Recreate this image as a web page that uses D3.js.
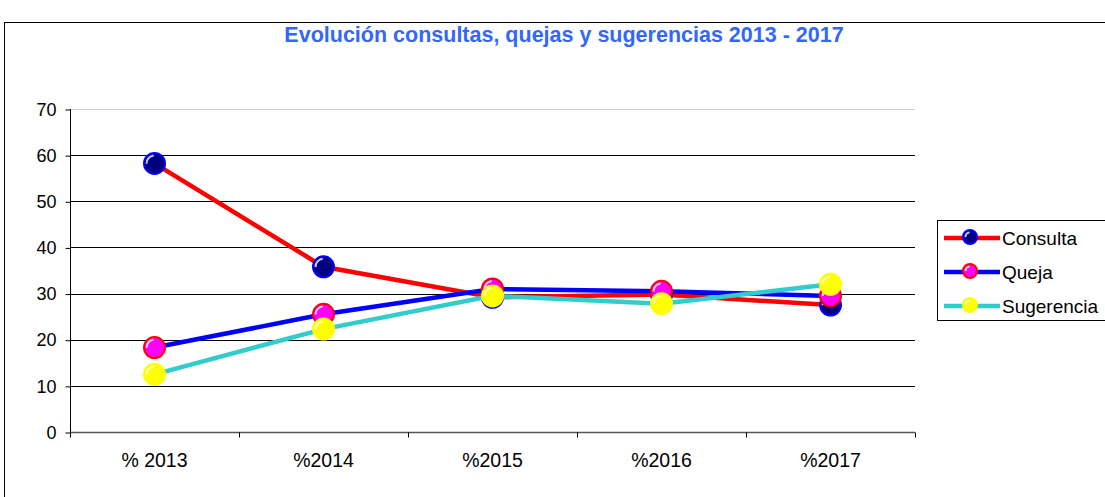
<!DOCTYPE html>
<html>
<head>
<meta charset="utf-8" />
<style>
  body { margin: 0; background: white; }
  svg { display: block; font-family: "Liberation Sans", Arial, sans-serif; }
</style>
<script src="https://cdnjs.cloudflare.com/ajax/libs/d3/7.8.5/d3.min.js"></script>
</head>
<body>
<div id="graph"></div>
<script>
var years = ["% 2013", "%2014", "%2015", "%2016", "%2017"];
var consulta = [58.2, 35.8, 29.2, 29.8, 27.5];
var queja = [18.3, 25.5, 31.0, 30.5, 29.5];
var sugerencia = [12.5, 22.3, 29.5, 27.8, 32.0];
var yTicks = [0, 10, 20, 30, 40, 50, 60, 70];

var series = [
  { name: "Consulta", values: consulta, line: "#ff0000", fill: "#000080", edge: "#0000ff" },
  { name: "Queja", values: queja, line: "#0000ff", fill: "#ff00ff", edge: "#ff0000" },
  { name: "Sugerencia", values: sugerencia, line: "#33cccc", fill: "#ffff00", edge: "#ffff00" }
];

var w = 1105, h = 497;
var plotLeft = 70, plotRight = 915, plotTop = 109, plotBottom = 432;

var svg = d3.select("#graph").append("svg")
  .attr("width", w)
  .attr("height", h);

// outer chart frame
svg.append("rect")
  .attr("x", 4.5).attr("y", 22.5)
  .attr("width", 1130).attr("height", 520)
  .style("fill", "white").style("stroke", "black").style("stroke-width", 1);

svg.append("text")
  .attr("x", 564).attr("y", 42)
  .attr("text-anchor", "middle")
  .style("font-size", "21.5px").style("font-weight", "bold")
  .style("fill", "#3366ff")
  .text("Evolución consultas, quejas y sugerencias 2013 - 2017");

var x = d3.scaleBand().domain(years).range([plotLeft, plotRight]);
var y = d3.scaleLinear().domain([0, 70]).range([plotBottom, plotTop]);

// gridlines
svg.append("g").selectAll("line")
  .data(yTicks.filter(function (d) { return d > 0; }))
  .enter().append("line")
  .attr("x1", plotLeft).attr("x2", plotRight)
  .attr("y1", function (d) { return Math.round(y(d)) + 0.5; })
  .attr("y2", function (d) { return Math.round(y(d)) + 0.5; })
  .style("stroke", function (d) { return d == 70 ? "#d0d0d0" : "#000"; })
  .style("stroke-width", 1);

var yAxis = d3.axisLeft(y).tickValues(yTicks).tickSize(5).tickPadding(9);
var gy = svg.append("g")
  .attr("transform", "translate(" + (plotLeft + 0.5) + ",0.5)")
  .call(yAxis);
gy.select(".domain").attr("d", "M0," + (y(0) - 0.5) + "V" + (y(70) - 0.5));
gy.selectAll("text").style("font-size", "18px").style("fill", "#000");

// x axis with ticks at category boundaries
var gx = svg.append("g")
  .attr("transform", "translate(0," + (plotBottom + 0.5) + ")");
gx.append("line")
  .attr("x1", plotLeft).attr("x2", plotRight)
  .style("stroke", "#555").style("stroke-width", 1.5);
gx.selectAll(".tk")
  .data(years.concat(["end"]))
  .enter().append("line")
  .attr("class", "tk")
  .attr("x1", function (d, i) { return Math.round(plotLeft + i * x.bandwidth()) + 0.5; })
  .attr("x2", function (d, i) { return Math.round(plotLeft + i * x.bandwidth()) + 0.5; })
  .attr("y1", 0).attr("y2", 5)
  .style("stroke", "#000");
gx.selectAll(".lbl")
  .data(years)
  .enter().append("text")
  .attr("class", "lbl")
  .attr("x", function (d) { return x(d) + x.bandwidth() / 2; })
  .attr("y", 34.5)
  .attr("text-anchor", "middle")
  .style("font-size", "19.5px")
  .text(function (d) { return d; });

var line = d3.line()
  .x(function (d, i) { return x(years[i]) + x.bandwidth() / 2; })
  .y(function (d) { return y(d); });

function marker(g, cx, cy, s, r) {
  g.append("circle")
    .attr("cx", cx).attr("cy", cy).attr("r", r)
    .style("fill", s.fill).style("stroke", s.edge).style("stroke-width", 2);
  g.append("path")
    .attr("d", d3.arc()({ innerRadius: r - 3.5, outerRadius: r - 1.5, startAngle: -1.6, endAngle: -0.1 }))
    .attr("transform", "translate(" + cx + "," + cy + ")")
    .style("fill", "white").style("opacity", 0.8);
}

series.forEach(function (s) {
  var g = svg.append("g");
  g.append("path")
    .datum(s.values)
    .attr("d", line)
    .style("fill", "none")
    .style("stroke", s.line)
    .style("stroke-width", 4.5);
  s.values.forEach(function (v, i) {
    marker(g, x(years[i]) + x.bandwidth() / 2, y(v), s, 10.5);
  });
});

// legend
var lg = svg.append("g");
lg.append("rect")
  .attr("x", 937.5).attr("y", 220.5)
  .attr("width", 200).attr("height", 100)
  .style("fill", "white").style("stroke", "black");
series.forEach(function (s, i) {
  var ly = 238 + i * 34;
  lg.append("line")
    .attr("x1", 944).attr("x2", 1000)
    .attr("y1", ly).attr("y2", ly)
    .style("stroke", s.line).style("stroke-width", 4.5);
  marker(lg, 970, ly - 1, s, 7);
  lg.append("text")
    .attr("x", 1002).attr("y", ly + 7)
    .style("font-size", "19px")
    .text(s.name);
});
</script>
</body>
</html>
